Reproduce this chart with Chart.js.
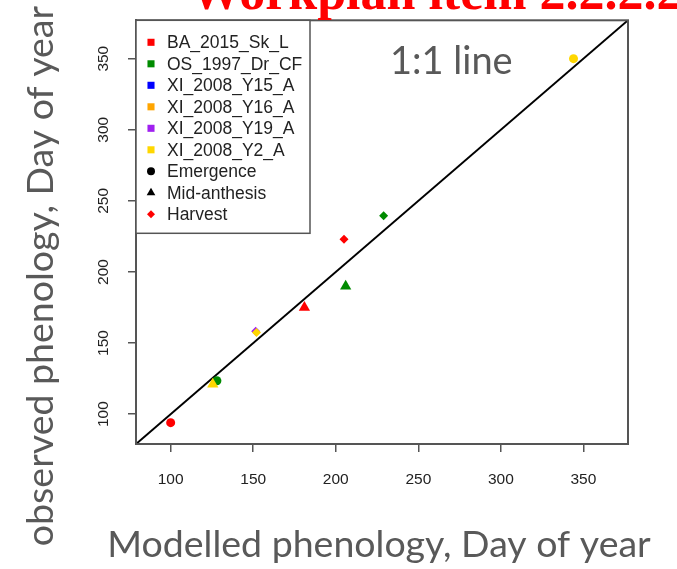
<!DOCTYPE html>
<html>
<head>
<meta charset="utf-8">
<script src="https://cdn.jsdelivr.net/npm/chart.js@4"></script>
<style>
  html, body { margin: 0; padding: 0; background: #fff; }
  #wrap { width: 677px; height: 569px; }
</style>
</head>
<body>
<div id="wrap"><canvas id="myChart" width="677" height="569"></canvas></div>
<script>
// sites and their colours
const sites = ['BA_2015_Sk_L', 'OS_1997_Dr_CF', 'XI_2008_Y15_A', 'XI_2008_Y16_A', 'XI_2008_Y19_A', 'XI_2008_Y2_A'];
const siteColors = ['#ff0000', '#008b00', '#0000ff', '#ffa500', '#a020f0', '#ffd700'];

// phases: 0 = Emergence, 1 = Mid-anthesis, 2 = Harvest
const phases = ['Emergence', 'Mid-anthesis', 'Harvest'];
const phaseStyles = ['circle', 'triangle', 'rectRot'];
const phaseRadius = [4.5, 6.5, 4.5];

// modelled (x) / observed (y) day of year per site
const modelledBA = [100, 181, 205];
const observedBA = [94, 175, 223];
const phaseBA = [0, 1, 2];

const modelledOS = [128, 206, 229];
const observedOS = [123.5, 190, 239.5];
const phaseOS = [0, 1, 2];

const modelledY15 = [];
const observedY15 = [];
const phaseY15 = [];

const modelledY16 = [];
const observedY16 = [];
const phaseY16 = [];

const modelledY19 = [151.5];
const observedY19 = [158.3];
const phaseY19 = [2];

const modelledY2 = [344, 125.5, 152];
const observedY2 = [350, 121, 157.4];
const phaseY2 = [0, 1, 2];

const xTicks = [100, 150, 200, 250, 300, 350];
const yTicks = [100, 150, 200, 250, 300, 350];
const axisMin = 79;
const axisMax = 377;

const xTitle = 'Modelled phenology, Day of year';
const yTitle = 'observed phenology, Day of year';
const lineLabel = '1:1 line';
const slideTitle = 'Workplan item 2.2.2.2';

const siteData = [
  [modelledBA, observedBA, phaseBA],
  [modelledOS, observedOS, phaseOS],
  [modelledY15, observedY15, phaseY15],
  [modelledY16, observedY16, phaseY16],
  [modelledY19, observedY19, phaseY19],
  [modelledY2, observedY2, phaseY2]
];

const datasets = siteData.map((d, i) => ({
  type: 'scatter',
  label: sites[i],
  data: d[0].map((x, j) => ({ x: x, y: d[1][j] })),
  pointStyle: d[2].map(p => phaseStyles[p]),
  pointRadius: d[2].map(p => phaseRadius[p]),
  backgroundColor: siteColors[i],
  borderColor: siteColors[i],
  pointBorderWidth: 0,
  order: sites.length - i
}));

datasets.push({
  type: 'line',
  label: lineLabel,
  data: [{ x: axisMin, y: axisMin }, { x: axisMax, y: axisMax }],
  borderColor: '#000',
  borderWidth: 2,
  pointRadius: 0,
  fill: false,
  order: 99
});

const gray = '#595959';
const sansTitle = '"Lato", "Noto Sans", sans-serif';

const extras = {
  id: 'extras',
  afterDraw(chart) {
    const c = chart.ctx;
    const a = chart.chartArea;
    const xs = chart.scales.x;
    const ys = chart.scales.y;
    c.save();

    // plot box
    c.strokeStyle = '#555';
    c.lineWidth = 2;
    c.strokeRect(a.left, a.top, a.right - a.left, a.bottom - a.top);

    // slide title (cut off at the top)
    c.fillStyle = '#ff0000';
    c.font = 'bold 52px "Liberation Serif", serif';
    c.textAlign = 'left';
    c.textBaseline = 'alphabetic';
    c.fillText(slideTitle, 190, 9);

    // 1:1 line label
    c.fillStyle = gray;
    c.font = '38px ' + sansTitle;
    c.textAlign = 'center';
    c.fillText(lineLabel, xs.getPixelForValue(270), ys.getPixelForValue(350) + 15);

    // axis titles
    c.font = '37.5px ' + sansTitle;
    c.fillText(xTitle, (a.left + a.right) / 2 - 3, 557);
    c.translate(53, 276);
    c.rotate(-Math.PI / 2);
    c.fillText(yTitle, 0, 0);
    c.restore();

    // legend
    c.save();
    const lx = a.left, ly = a.top, lw = 174, lh = 213;
    c.fillStyle = '#fff';
    c.fillRect(lx, ly, lw, lh);
    c.strokeStyle = '#555';
    c.lineWidth = 1.5;
    c.strokeRect(lx, ly, lw, lh);
    const items = sites.map((s, i) => ({ text: s, color: siteColors[i], style: 'rect', r: 5 }))
      .concat(phases.map((p, i) => ({ text: p, color: i === 2 ? '#ff0000' : '#000', style: phaseStyles[i], r: i === 1 ? 5 : 4 })));
    c.font = '17.5px "Liberation Sans", Arial, sans-serif';
    c.textAlign = 'left';
    c.textBaseline = 'middle';
    items.forEach((it, i) => {
      const y = ly + 22 + i * 21.5;
      c.fillStyle = it.color;
      Chart.helpers.drawPoint(c, { pointStyle: it.style, radius: it.r, borderWidth: 0, rotation: 0 }, lx + 15, y);
      c.fillStyle = '#222';
      c.fillText(it.text, lx + 31, y + 1);
    });
    c.restore();
  }
};

const tickFont = { family: '"Liberation Sans", Arial, sans-serif', size: 15.5 };

new Chart(document.getElementById('myChart'), {
  data: { datasets: datasets },
  options: {
    responsive: false,
    animation: false,
    layout: { padding: { left: 0, right: 49, top: 20, bottom: 0 } },
    plugins: { legend: { display: false }, tooltip: { enabled: false } },
    scales: {
      x: {
        type: 'linear',
        min: axisMin,
        max: axisMax,
        afterBuildTicks: s => { s.ticks = xTicks.map(v => ({ value: v })); },
        afterFit: s => { s.height = 125; },
        grid: { drawOnChartArea: false, drawTicks: true, tickLength: 8, color: '#555', lineWidth: 1.5 },
        border: { display: true, color: '#555', width: 2 },
        ticks: { color: '#222', font: tickFont, padding: 18, maxRotation: 0 }
      },
      y: {
        type: 'linear',
        min: axisMin,
        max: axisMax,
        afterBuildTicks: s => { s.ticks = yTicks.map(v => ({ value: v })); },
        afterFit: s => { s.width = 136; },
        grid: { drawOnChartArea: false, drawTicks: true, tickLength: 8, color: '#555', lineWidth: 1.5 },
        border: { display: true, color: '#555', width: 2 },
        ticks: { color: '#222', font: tickFont, padding: 11, minRotation: 90, maxRotation: 90, crossAlign: 'center' }
      }
    }
  },
  plugins: [extras]
});
</script>
</body>
</html>
